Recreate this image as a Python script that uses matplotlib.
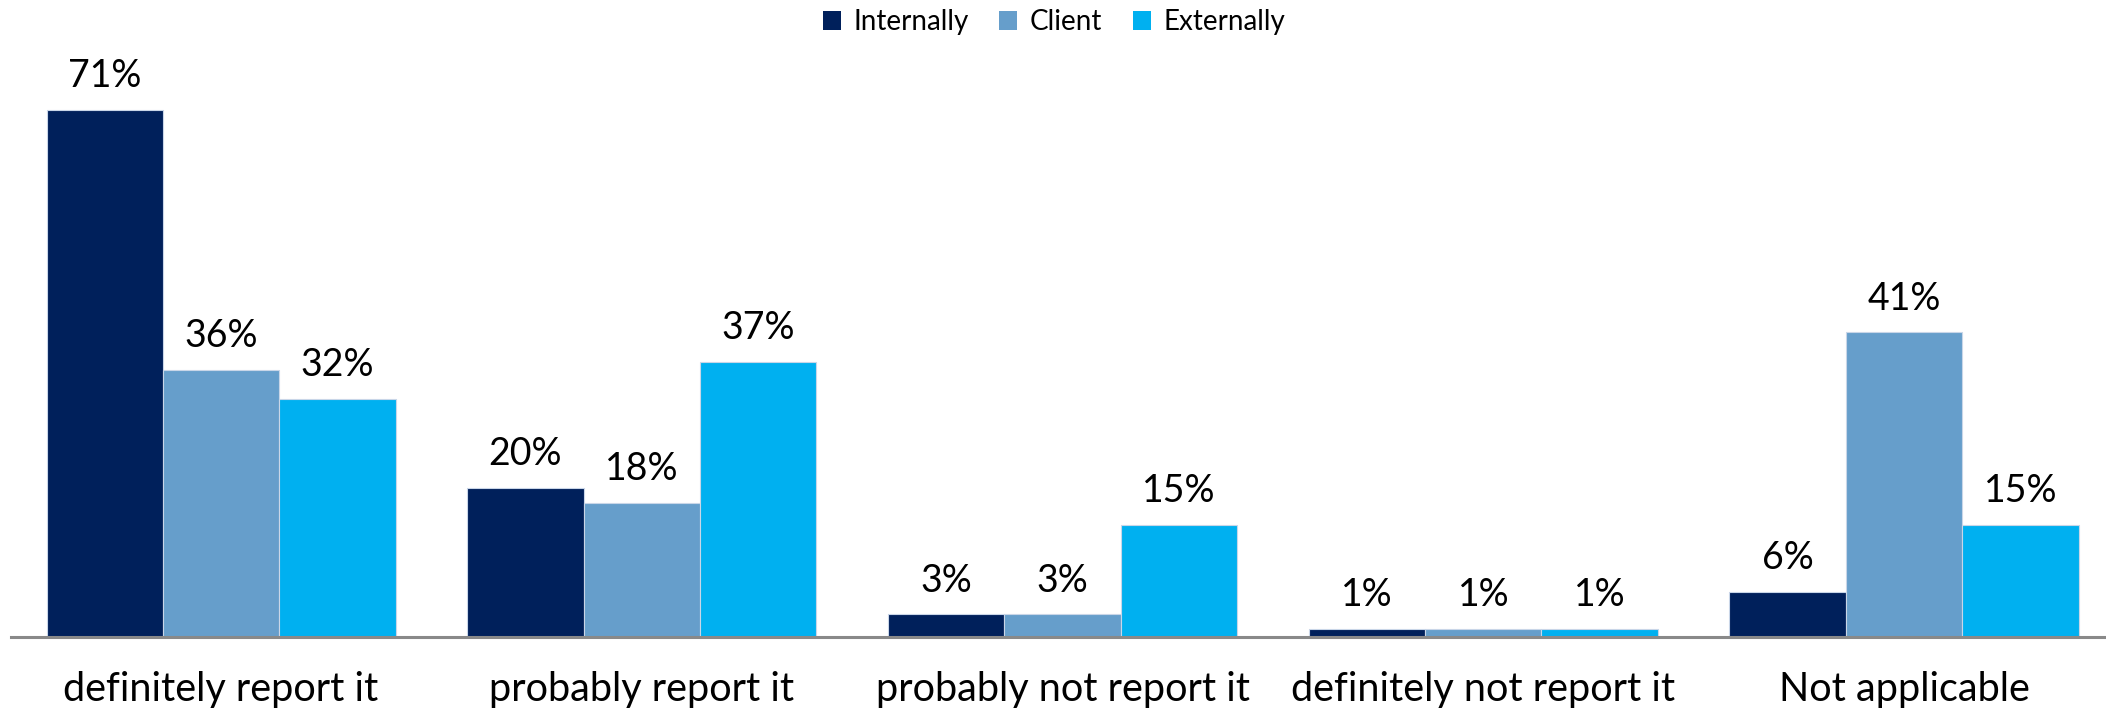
import matplotlib
matplotlib.use("Agg")
import matplotlib.pyplot as plt
from matplotlib.patches import Patch
import numpy as np

categories = ["definitely report it", "probably report it", "probably not report it",
              "definitely not report it", "Not applicable"]
series_names = ["Internally", "Client", "Externally"]
internally = [71, 20, 3, 1, 6]
client = [36, 18, 3, 1, 41]
externally = [32, 37, 15, 1, 15]
colors = ["#00205B", "#669ECB", "#00B0F0"]

W, H, DPI = 2106, 713, 100
fig = plt.figure(figsize=(W / DPI, H / DPI), dpi=DPI)

# axes placement in pixels
ax_left, ax_right = 10.7, 2106
base_y, top_y = 636.7, 50
px_per_unit = 7.42
ax = fig.add_axes([ax_left / W, (H - base_y) / H, (ax_right - ax_left) / W, (base_y - top_y) / H])

x = np.arange(len(categories))
bar_w = 0.2766
label_font = "Lato"

for i, (vals, col) in enumerate(zip([internally, client, externally], colors)):
    pos = x + (i - 1) * bar_w
    bars = ax.bar(pos, vals, width=bar_w, color=col, edgecolor="#C9D6E8", linewidth=0.8, zorder=2)
    for b, v in zip(bars, vals):
        ax.annotate(f"{v}%", (b.get_x() + b.get_width() / 2, v), xytext=(0, 16.5),
                    textcoords="offset points", ha="center", va="baseline",
                    fontsize=27, family=label_font, color="black")

ax.set_xlim(-0.5, 4.48)
ax.set_ylim(0, (base_y - top_y) / px_per_unit)
ax.set_yticks([])
ax.set_xticks(x)
ax.set_xticklabels(categories, fontsize=28.5, family=label_font)
ax.tick_params(axis="x", length=0, pad=25)
for s in ["top", "right", "left"]:
    ax.spines[s].set_visible(False)
ax.spines["bottom"].set_color("#898989")
ax.spines["bottom"].set_linewidth(2.2)
ax.spines["bottom"].set_zorder(3)

handles = [Patch(facecolor=c, edgecolor="none") for c in colors]
fig.legend(handles, series_names, loc="center", bbox_to_anchor=(1054 / W, 1 - 22 / H),
           ncol=3, frameon=False, prop={"family": "Lato", "size": 20},
           handlelength=0.65, handleheight=0.65, handletextpad=0.45, columnspacing=1.1)

fig.savefig("out.png", dpi=DPI)
